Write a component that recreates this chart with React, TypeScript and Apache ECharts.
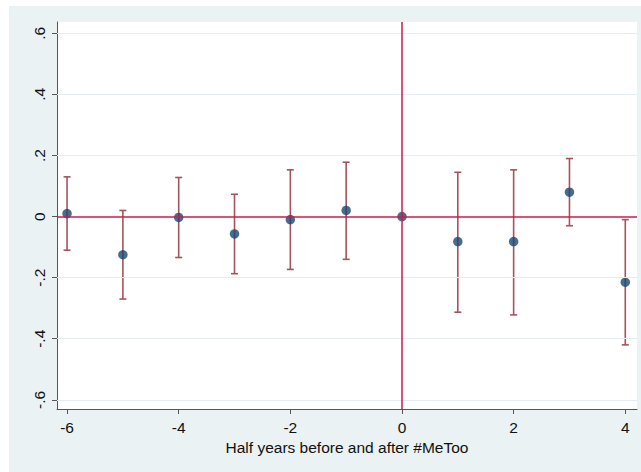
import React, { useEffect, useRef } from "react";
import * as echarts from "echarts";

const periods = [-6, -5, -4, -3, -2, -1, 0, 1, 2, 3, 4];
const estimates = [0.01, -0.125, -0.003, -0.057, -0.01, 0.02, 0, -0.082, -0.082, 0.08, -0.215];
const ciLow = [-0.11, -0.27, -0.134, -0.187, -0.173, -0.14, 0, -0.313, -0.322, -0.03, -0.42];
const ciHigh = [0.13, 0.02, 0.128, 0.073, 0.153, 0.178, 0, 0.145, 0.153, 0.19, -0.01];
const xTicks = [-6, -4, -2, 0, 2, 4];
const yTicks = [-0.6, -0.4, -0.2, 0, 0.2, 0.4, 0.6];
const xTitle = "Half years before and after #MeToo";

const fmtY = (v: number) => {
  if (Math.abs(v) < 1e-9) return "0";
  const s = v.toFixed(1);
  return s.replace("0.", ".");
};

export default function App() {
  const ref = useRef<HTMLDivElement>(null);
  useEffect(() => {
    if (!ref.current) return;
    const chart = echarts.init(ref.current, null, { renderer: "svg" });
    const font = "Liberation Sans, Arial, Helvetica, sans-serif";
    chart.setOption({
      animation: false,
      backgroundColor: "#ffffff",
      graphic: [
        {
          type: "rect",
          z: -10,
          silent: true,
          shape: { x: 9, y: 6, width: 632, height: 466 },
          style: { fill: "#eaf2f3" },
        },
      ],
      grid: {
        left: 57,
        top: 22,
        right: 4,
        bottom: 63,
        show: true,
        backgroundColor: "#ffffff",
        borderWidth: 0,
      },
      xAxis: {
        type: "value",
        min: -6.18,
        max: 4.21,
        name: xTitle,
        nameLocation: "middle",
        nameGap: 29,
        nameTextStyle: { fontFamily: font, fontSize: 15.5, color: "#111" },
        axisLine: { show: true, onZero: false, lineStyle: { color: "#555", width: 1 } },
        axisTick: { show: true, length: 5, lineStyle: { color: "#555" }, customValues: xTicks },
        axisLabel: {
          fontFamily: font,
          fontSize: 15.5,
          color: "#111",
          margin: 10,
          customValues: xTicks,
          showMinLabel: true,
          showMaxLabel: true,
        },
        splitLine: { show: false },
      },
      yAxis: {
        type: "value",
        min: -0.63,
        max: 0.637,
        axisLine: { show: true, onZero: false, lineStyle: { color: "#555", width: 1 } },
        axisTick: { show: true, length: 5, lineStyle: { color: "#555" }, customValues: yTicks },
        axisLabel: {
          fontFamily: font,
          fontSize: 15.5,
          color: "#111",
          rotate: 90,
          margin: 10,
          customValues: yTicks,
          formatter: (v: number) => fmtY(v),
          showMinLabel: true,
          showMaxLabel: true,
        },
        splitLine: { show: false },
      },
      series: [
        {
          type: "line",
          data: [],
          z: 1,
          silent: true,
          markLine: {
            symbol: "none",
            silent: true,
            label: { show: false },
            lineStyle: { color: "#e4eef0", width: 1, type: "solid" },
            data: yTicks.filter((t) => t !== 0).map((t) => ({ yAxis: t })),
          },
        },
        {
          type: "custom",
          z: 2,
          silent: true,
          data: periods.map((p, i) => [p, ciLow[i], ciHigh[i]]),
          renderItem: (params: any, api: any) => {
            const x = api.value(0);
            const lo = api.value(1);
            const hi = api.value(2);
            if (lo === hi) return { type: "group", children: [] };
            const a = api.coord([x, lo]);
            const b = api.coord([x, hi]);
            const w = 3.5;
            const style = { stroke: "#a4545c", lineWidth: 1.6 };
            return {
              type: "group",
              children: [
                { type: "line", shape: { x1: a[0], y1: a[1], x2: b[0], y2: b[1] }, style },
                { type: "line", shape: { x1: a[0] - w, y1: a[1], x2: a[0] + w, y2: a[1] }, style },
                { type: "line", shape: { x1: b[0] - w, y1: b[1], x2: b[0] + w, y2: b[1] }, style },
              ],
            };
          },
        },
        {
          type: "scatter",
          z: 3,
          silent: true,
          symbol: "circle",
          symbolSize: 9.5,
          itemStyle: { color: "#1a476f" },
          data: periods.map((p, i) => [p, estimates[i]]),
        },
        {
          type: "line",
          data: [],
          z: 5,
          silent: true,
          markLine: {
            symbol: "none",
            silent: true,
            label: { show: false },
            lineStyle: { color: "#d3194a", width: 1.5, type: "solid" },
            data: [{ yAxis: 0 }, { xAxis: 0 }],
          },
        },
      ],
    });
    return () => chart.dispose();
  }, []);
  return (
    <div
      ref={ref}
      style={{ position: "absolute", left: 0, top: 0, width: 641, height: 472 }}
    />
  );
}
